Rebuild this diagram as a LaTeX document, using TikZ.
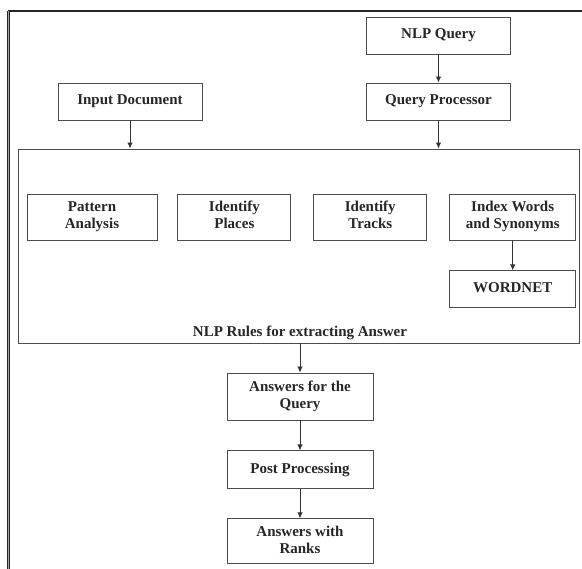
\documentclass[tikz,border=0pt]{standalone}
\usepackage{fontspec}
\setmainfont{Liberation Serif}
\usepackage{tikz}
\usetikzlibrary{arrows.meta, positioning}

\begin{document}
\begin{tikzpicture}[
          x=1pt, y=-1pt,
          font=\fontsize{15}{17}\selectfont\bfseries,
          box/.style={draw=black!70, line width=0.9pt, minimum width=144pt, minimum height=37pt, align=center, inner sep=0pt, text=black!85},
          arrow/.style={-{Latex[length=6pt,width=5.5pt]}, draw=black!80, line width=0.9pt}
        ]
          \useasboundingbox (0,0) rectangle (582,569);
          % outer frame, cut off right and below
          \draw[line width=1.1pt, black!85] (582,11) -- (8,11);
          \draw[line width=1.2pt, black!85, double=black!35, double distance=1.2pt] (8.5,11) -- (8.5,569);

          \node[box] (nlpq) at (438.5,35.5) {NLP Query\strut};
          \node[box] (qproc) at (438.5,101.5) {Query Processor\strut};
          \node[box] (inputdoc) at (130,101.5) {Input Document\strut};

          % big rules box
          \node[box, minimum width=561pt, minimum height=194pt] (rules) at (298.5,246) {};
          \node[text=black!85] (rulelbl) at (300,333) {NLP Rules for extracting Answer};

          \node[box, minimum width=130pt, minimum height=46pt] (pattern) at (92,217) {Pattern\strut\\Analysis\strut};
          \node[box, minimum width=113pt, minimum height=46pt, right=20pt of pattern] (places) {Identify\strut\\Places\strut};
          \node[box, minimum width=113pt, minimum height=46pt, right=22pt of places] (tracks) {Identify\strut\\Tracks\strut};
          \node[box, minimum width=126pt, minimum height=46pt, right=22pt of tracks] (index) {Index Words\strut\\and Synonyms\strut};
          \node[box, minimum width=126pt, below=30pt of index] (wordnet) {WORDNET\strut};

          \node[box, minimum width=146pt, minimum height=47pt] (ansq) at (300,396.5) {Answers for the\strut\\Query\strut};
          \node[box, minimum width=146pt, minimum height=38pt, below=30pt of ansq] (post) {Post Processing\strut};
          \node[box, minimum width=146pt, minimum height=45pt, below=29pt of post] (ranks) {Answers with\strut\\Ranks\strut};

          \draw[arrow] (nlpq) -- (qproc);
          \draw[arrow] (inputdoc) -- (inputdoc |- rules.north);
          \draw[arrow] (qproc) -- (qproc |- rules.north);
          \draw[arrow] (index) -- (wordnet);
          \draw[arrow] (rules.south -| ansq) -- (ansq);
          \draw[arrow] (ansq) -- (post);
          \draw[arrow] (post) -- (ranks);
        \end{tikzpicture}
\end{document}
